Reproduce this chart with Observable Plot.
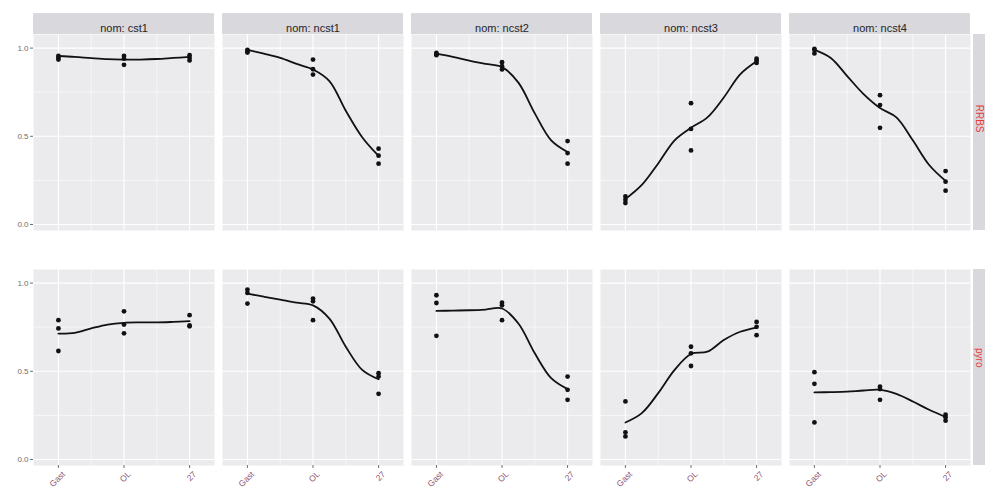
<!DOCTYPE html>
<html>
<head>
<meta charset="utf-8">
<script src="https://cdn.jsdelivr.net/npm/d3@7"></script>
<script src="https://cdn.jsdelivr.net/npm/@observablehq/plot@0.6"></script>
<style>
  html, body { margin: 0; padding: 0; background: #fff; }
  #chart svg { display: block; }
</style>
</head>
<body>
<div id="chart"></div>
<script>
// Facets: columns by region name, rows by measurement method
const noms = ["cst1", "ncst1", "ncst2", "ncst3", "ncst4"];
const methods = ["RRBS", "pyro"];
const stages = ["Gast", "OL", "27"];
const stagePos = [1, 2, 3];

// Replicate methylation levels, three per stage (Gast x3, OL x3, 27 x3)
const rrbsValues = [
  [0.955, 0.945, 0.935, 0.955, 0.94, 0.905, 0.96, 0.945, 0.93],
  [0.99, 0.98, 0.975, 0.935, 0.88, 0.85, 0.43, 0.39, 0.345],
  [0.972, 0.965, 0.96, 0.92, 0.897, 0.879, 0.473, 0.405, 0.345],
  [0.159, 0.14, 0.122, 0.688, 0.542, 0.42, 0.94, 0.929, 0.916],
  [0.995, 0.99, 0.97, 0.733, 0.677, 0.548, 0.303, 0.243, 0.192]
];
const pyroValues = [
  [0.79, 0.743, 0.615, 0.84, 0.765, 0.715, 0.818, 0.76, 0.755],
  [0.963, 0.944, 0.884, 0.912, 0.897, 0.79, 0.489, 0.47, 0.372],
  [0.931, 0.887, 0.701, 0.889, 0.874, 0.79, 0.47, 0.395, 0.338],
  [0.329, 0.154, 0.131, 0.639, 0.602, 0.53, 0.78, 0.752, 0.705],
  [0.495, 0.429, 0.21, 0.413, 0.399, 0.338, 0.254, 0.239, 0.22]
];

// Smoothed trend, sampled along the stage axis
const smoothX = [1, 1.25, 1.5, 1.75, 2, 2.25, 2.5, 2.75, 3];
const rrbsSmooth = [
  [0.955, 0.95, 0.943, 0.937, 0.935, 0.935, 0.938, 0.944, 0.95],
  [0.99, 0.968, 0.944, 0.91, 0.879, 0.813, 0.645, 0.495, 0.389],
  [0.968, 0.95, 0.929, 0.91, 0.892, 0.804, 0.63, 0.477, 0.411],
  [0.144, 0.224, 0.346, 0.477, 0.548, 0.607, 0.72, 0.851, 0.925],
  [0.99, 0.944, 0.841, 0.739, 0.66, 0.607, 0.477, 0.337, 0.247]
];
const pyroSmooth = [
  [0.714, 0.718, 0.743, 0.765, 0.775, 0.777, 0.777, 0.78, 0.784],
  [0.94, 0.923, 0.906, 0.889, 0.874, 0.799, 0.639, 0.508, 0.455],
  [0.842, 0.844, 0.846, 0.85, 0.856, 0.771, 0.602, 0.461, 0.399],
  [0.21, 0.263, 0.376, 0.508, 0.598, 0.611, 0.677, 0.724, 0.748],
  [0.38, 0.382, 0.385, 0.391, 0.395, 0.372, 0.329, 0.282, 0.241]
];

const yTicks = [0, 0.5, 1];
const yMinor = [0.25, 0.75];
const xMinor = [1.5, 2.5];

// Build long tables
const valuesBy = {RRBS: rrbsValues, pyro: pyroValues};
const smoothBy = {RRBS: rrbsSmooth, pyro: pyroSmooth};
const points = [];
const smooth = [];
for (const method of methods) {
  noms.forEach((nom, i) => {
    valuesBy[method][i].forEach((v, j) => {
      points.push({nom, method, x: stagePos[Math.floor(j / 3)], v});
    });
    smoothBy[method][i].forEach((v, j) => {
      smooth.push({nom, method, x: smoothX[j], v});
    });
  });
}

// Layout
const W = 985, H = 488;
const mL = 32, mR = 15, mT = 33, mB = 22;
const padX = 0.043, padY = 0.165;
const xDomain = [0.62, 3.38];
const yDomain = [-0.034, 1.077];
const bwX = (W - mL - mR) / (noms.length - padX) * (1 - padX);
const bwY = (H - mT - mB) / (methods.length - padY) * (1 - padY);
const pxX = bwX / (xDomain[1] - xDomain[0]);
const pxY = bwY / (yDomain[1] - yDomain[0]);
const stripH = 21;
const stripFill = "#d9d8dc";

const topStrips = noms.map(nom => ({nom, method: "RRBS"}));
const sideStrips = methods.map(method => ({nom: "ncst4", method}));
const xLabels = noms.flatMap(nom => stages.map((label, i) => ({nom, method: "pyro", x: stagePos[i], label})));

const chart = Plot.plot({
  width: W,
  height: H,
  marginLeft: mL,
  marginRight: mR,
  marginTop: mT,
  marginBottom: mB,
  style: {background: "#fff", fontFamily: "'Liberation Sans', Arial, sans-serif", overflow: "visible"},
  fx: {domain: noms, paddingInner: padX, paddingOuter: 0, axis: null},
  fy: {domain: methods, paddingInner: padY, paddingOuter: 0, axis: null},
  x: {domain: xDomain, axis: null},
  y: {domain: yDomain, axis: null},
  marks: [
    Plot.frame({fill: "#ebebee", stroke: "none"}),
    Plot.ruleY(yMinor, {stroke: "#fff", strokeWidth: 0.55}),
    Plot.ruleX(xMinor, {stroke: "#fff", strokeWidth: 0.55}),
    Plot.ruleY(yTicks, {stroke: "#fff", strokeWidth: 1.1}),
    Plot.ruleX(stagePos, {stroke: "#fff", strokeWidth: 1.1}),

    // column strips
    Plot.rect(topStrips, {
      fx: "nom", fy: "method",
      x1: () => xDomain[0], x2: () => xDomain[1],
      y1: () => yDomain[1], y2: () => yDomain[1] + stripH / pxY,
      fill: stripFill
    }),
    Plot.text(topStrips, {
      fx: "nom", fy: "method",
      text: d => "nom: " + d.nom,
      frameAnchor: "top", dy: -10.5,
      fontSize: 11, fill: "#26262a"
    }),
    // row strips
    Plot.rect(sideStrips, {
      fx: "nom", fy: "method",
      x1: () => xDomain[1] + 3 / pxX, x2: () => xDomain[1] + 24 / pxX,
      y1: () => yDomain[0], y2: () => yDomain[1],
      fill: stripFill
    }),
    Plot.text(sideStrips, {
      fx: "nom", fy: "method",
      text: "method",
      frameAnchor: "right", dx: 9,
      rotate: 90,
      fontSize: 10, fill: "#e8383d"
    }),

    Plot.axisY({
      ticks: yTicks, tickFormat: d3.format(".1f"),
      tickSize: 3, tickPadding: 2, fontSize: 8, color: "#6e6e6e", label: null
    }),
    Plot.axisX({
      anchor: "bottom",
      ticks: stagePos, tickFormat: () => "",
      tickSize: 3, color: "#6e6e6e", label: null
    }),
    Plot.text(xLabels, {
      fx: "nom", fy: "method", x: "x",
      text: "label",
      frameAnchor: "bottom",
      rotate: -45, textAnchor: "end", lineAnchor: "top",
      dx: 3, dy: 5,
      fontSize: 8.5, fill: "#8d5572"
    }),

    Plot.line(smooth, {
      fx: "nom", fy: "method", x: "x", y: "v",
      curve: "catmull-rom", stroke: "#111", strokeWidth: 1.8
    }),
    Plot.dot(points, {
      fx: "nom", fy: "method", x: "x", y: "v",
      r: 2.4, fill: "#111", stroke: "none"
    })
  ]
});

document.getElementById("chart").append(chart);
</script>
</body>
</html>
